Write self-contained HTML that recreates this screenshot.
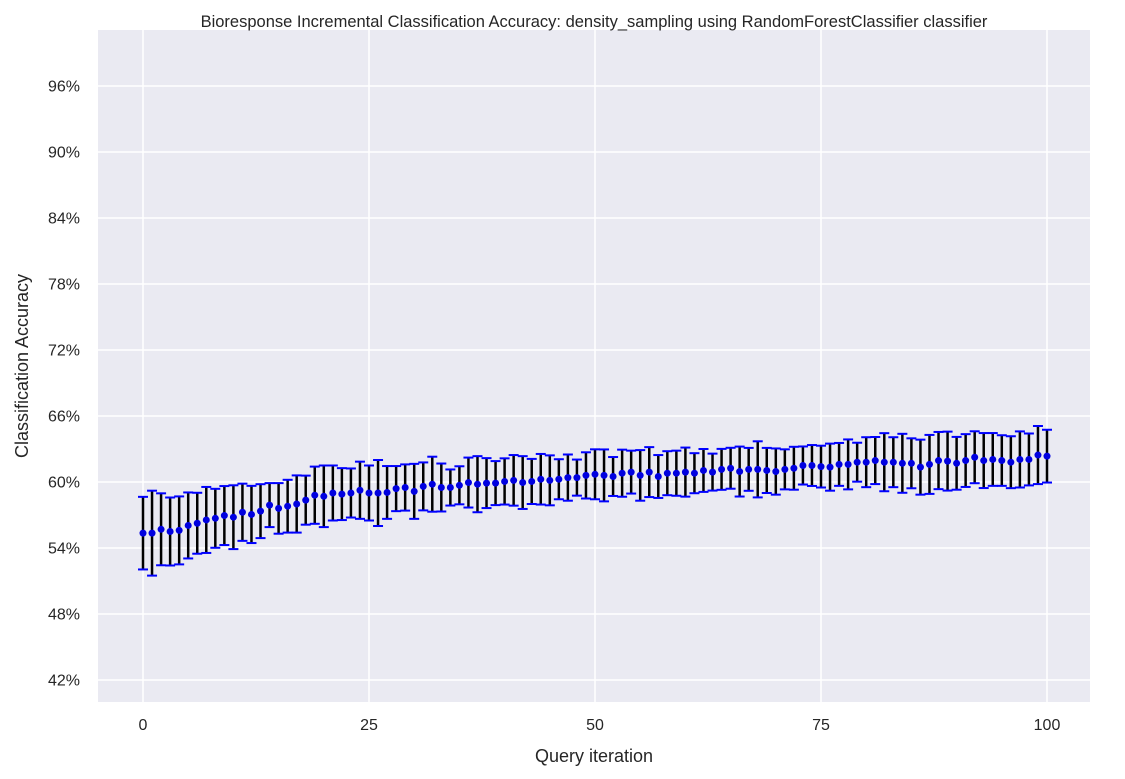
<!DOCTYPE html>
<html><head><meta charset="utf-8"><style>body{margin:0;background:#fff}svg{display:block;font-family:"Liberation Sans",sans-serif}</style></head>
<body>
<svg id="chart" width="1125" height="779" xmlns="http://www.w3.org/2000/svg">
<rect x="98" y="30" width="992" height="672" fill="#eaeaf2"/>
<g id="grid"></g><g id="marks"></g><g id="axes"></g>
<text x="594" y="27" font-size="16.5" text-anchor="middle" fill="#262626">Bioresponse Incremental Classification Accuracy: density_sampling using RandomForestClassifier classifier</text>
<text x="594" y="762" font-size="18" text-anchor="middle" fill="#262626">Query iteration</text>
<text transform="translate(28,366) rotate(-90)" font-size="18" text-anchor="middle" fill="#262626">Classification Accuracy</text>
</svg>
<script>
const means=[55.35,55.35,55.7,55.5,55.6,56.05,56.25,56.55,56.7,56.95,56.8,57.25,57.05,57.35,57.9,57.6,57.8,58.0,58.35,58.8,58.7,59.0,58.9,59.0,59.25,59.0,59.0,59.05,59.4,59.5,59.15,59.6,59.8,59.5,59.5,59.7,59.95,59.8,59.9,59.9,60.05,60.15,59.95,60.05,60.25,60.15,60.25,60.4,60.4,60.6,60.7,60.6,60.5,60.8,60.9,60.6,60.9,60.5,60.8,60.8,60.9,60.8,61.05,60.9,61.15,61.25,60.95,61.15,61.15,61.05,60.95,61.15,61.25,61.5,61.5,61.4,61.35,61.6,61.6,61.8,61.8,61.95,61.8,61.8,61.7,61.7,61.35,61.6,61.95,61.9,61.7,61.95,62.25,61.95,62.05,61.95,61.8,62.05,62.05,62.45,62.35];
const errs=[3.3,3.86,3.27,3.09,3.09,3.0,2.77,3.0,2.68,2.68,2.9,2.6,2.6,2.45,2.0,2.3,2.4,2.6,2.23,2.6,2.8,2.5,2.36,2.23,2.6,2.5,3.0,2.4,2.05,2.1,2.5,2.18,2.5,2.18,1.64,1.73,2.27,2.55,2.27,2.0,2.1,2.3,2.4,2.05,2.3,2.27,1.82,2.1,1.64,2.1,2.27,2.36,1.77,2.14,1.95,2.3,2.27,1.95,2.0,2.05,2.23,1.82,1.95,1.68,1.86,1.86,2.27,1.95,2.55,2.05,2.1,1.82,1.95,1.73,1.86,1.9,2.14,1.95,2.27,1.77,2.27,2.14,2.64,2.27,2.68,2.27,2.5,2.68,2.6,2.68,2.4,2.4,2.36,2.5,2.4,2.3,2.36,2.55,2.36,2.64,2.4];
const yTicks=[42,48,54,60,66,72,78,84,90,96];
const xTicks=[0,25,50,75,100];
const X=v=>143+v*9.04, Y=v=>482-(v-60)*11;
const NS="http://www.w3.org/2000/svg";
function mk(p,t,a){const e=document.createElementNS(NS,t);for(const k in a)e.setAttribute(k,a[k]);p.appendChild(e);return e;}
const grid=document.getElementById('grid'),marks=document.getElementById('marks'),axes=document.getElementById('axes');
yTicks.forEach(t=>{const l=mk(grid,'line',{x1:98,x2:1090,y1:Y(t),y2:Y(t),stroke:'#fff','stroke-width':1.5});

const tx=mk(axes,'text',{x:80,y:Y(t)+5.5,'font-size':16,'text-anchor':'end',fill:'#262626'});tx.textContent=t+'%';
});
xTicks.forEach(t=>{const l=mk(grid,'line',{x1:X(t),x2:X(t),y1:30,y2:702,stroke:'#fff','stroke-width':1.5});

const tx=mk(axes,'text',{x:X(t),y:730,'font-size':16,'text-anchor':'middle',fill:'#262626'});tx.textContent=t;
});
means.forEach((m,i)=>{const x=X(i),t=Y(m+errs[i]),b=Y(m-errs[i]);
const g=mk(marks,'g',{});
mk(g,'line',{x1:x,x2:x,y1:t,y2:b,stroke:'#000','stroke-width':2.5});
mk(g,'line',{x1:x-5,x2:x+5,y1:t,y2:t,stroke:'#0000ff','stroke-width':2});
mk(g,'line',{x1:x-5,x2:x+5,y1:b,y2:b,stroke:'#0000ff','stroke-width':2});
const c=mk(marks,'circle',{cx:x,cy:Y(m),r:3.5,fill:'#0000e0'});
});
</script>
</body></html>
